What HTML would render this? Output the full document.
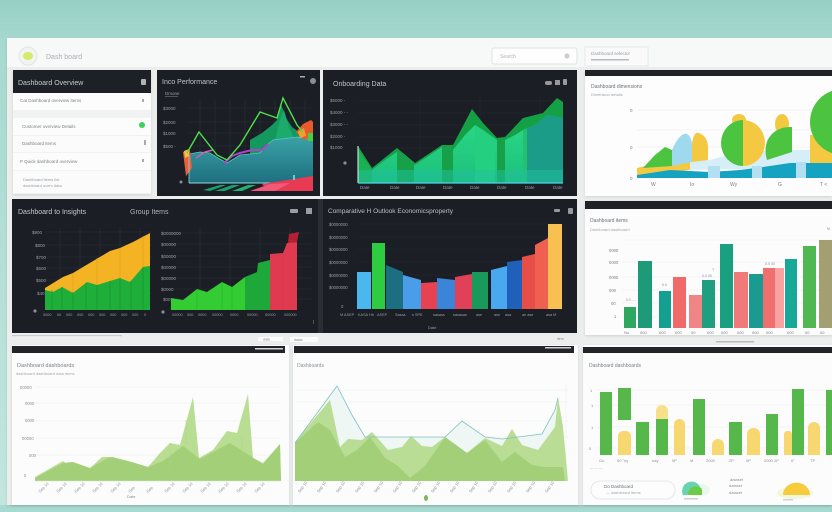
<!DOCTYPE html>
<html><head><meta charset="utf-8"><style>
html,body{margin:0;padding:0;width:832px;height:512px;overflow:hidden;background:#b5dfd8}
svg{display:block}
text{font-family:"Liberation Sans",sans-serif}
</style></head><body>
<svg width="832" height="512" viewBox="0 0 832 512" xmlns="http://www.w3.org/2000/svg">
<defs>
<linearGradient id="bg" x1="0" y1="0" x2="0" y2="1">
<stop offset="0" stop-color="#96cfc4"/><stop offset="0.08" stop-color="#a6d9cf"/><stop offset="1" stop-color="#c3e6df"/></linearGradient>
<linearGradient id="teal" x1="0" y1="0" x2="0" y2="1"><stop offset="0" stop-color="#3aa2a6"/><stop offset="1" stop-color="#1e6f80"/></linearGradient>
<linearGradient id="gfront" x1="0" y1="0" x2="0" y2="1"><stop offset="0" stop-color="#2fe08a"/><stop offset="1" stop-color="#1cc07a"/></linearGradient>
<clipPath id="cp3"><polygon points="358,150 372,170 385,160 397,152 405,155 415,165 430,155 442,147 453,150 465,135 475,125 483,130 497,140 505,140 515,135 523,130 535,125 547,115 563,118 563,183 358,183"/></clipPath>
<clipPath id="cp4"><rect x="585" y="70" width="247" height="126"/></clipPath>
<filter id="sh" x="-5%" y="-5%" width="110%" height="110%"><feDropShadow dx="0" dy="1" stdDeviation="1.2" flood-color="#000" flood-opacity="0.12"/></filter>
</defs>
<rect width="832" height="512" fill="url(#bg)"/>
<rect x="0" y="505" width="832" height="7" fill="#a7dad1"/>
<!-- main container -->
<rect x="7" y="38" width="825" height="467" fill="#eceeee" filter="url(#sh)"/>
<rect x="7" y="38" width="825" height="29" fill="#f7f8f8"/>
<circle cx="28" cy="56" r="9" fill="#f3f3f3" stroke="#e2e4e4"/>
<ellipse cx="28" cy="56" rx="5" ry="4" fill="#d6eb6c"/>
<text x="46" y="59" font-size="7" fill="#a8b0b4">Dash board</text>
<rect x="492" y="48" width="85" height="16" rx="2" fill="#fdfdfd" stroke="#e1e4e4"/>
<text x="500" y="58" font-size="5" fill="#b0b4b8">Search</text>
<circle cx="567" cy="56" r="2.5" fill="#c8cccc"/>
<rect x="585" y="47" width="63" height="19" fill="#fafafa" stroke="#e6e8e8"/>
<text x="591" y="55" font-size="4.5" fill="#9aa0a4">Dashboard selector</text>
<rect x="591" y="59" width="38" height="1.5" fill="#b8bcbf"/>

<!-- ROW 1 left list -->
<rect x="13" y="70" width="138" height="124" fill="#f1f2f2" filter="url(#sh)"/>
<rect x="13" y="70" width="138" height="23" fill="#1d2027"/>
<text x="18" y="85" font-size="7" fill="#c8cacd">Dashboard Overview</text>
<rect x="141" y="79" width="5" height="6" rx="1" fill="#b0b2b5"/>
<rect x="13" y="93" width="138" height="17" fill="#fcfcfc"/>
<text x="20" y="102" font-size="4.5" fill="#7c8286">Cat  Dashboard overview items</text>
<rect x="142" y="99" width="2" height="3" fill="#aaa"/>
<rect x="13" y="118" width="138" height="17" fill="#fcfcfc"/>
<text x="22" y="128" font-size="4.5" fill="#7c8286">Customer overview  Details</text>
<circle cx="142" cy="125" r="3" fill="#3dd15a"/>
<rect x="13" y="136" width="138" height="16" fill="#fbfbfb"/>
<text x="22" y="145" font-size="4.5" fill="#7c8286">Dashboard items</text>
<rect x="144" y="140" width="2" height="5" fill="#aaa"/>
<rect x="13" y="153" width="138" height="17" fill="#fcfcfc"/>
<text x="20" y="163" font-size="4.5" fill="#7c8286">P  Quick dashboard overview</text>
<rect x="142" y="159" width="2" height="3" fill="#aaa"/>
<rect x="13" y="171" width="138" height="22" fill="#fbfbfb"/>
<text x="23" y="181" font-size="4" fill="#9aa0a4">Dashboard items list</text>
<text x="23" y="187" font-size="4" fill="#9aa0a4">dashboard ovem  data</text>

<!-- ROW 1 panel 2 -->
<rect x="157" y="70" width="163" height="126" fill="#1b1e25"/>
<text x="162" y="84" font-size="7" fill="#c0c3c6">Inco Performance</text>
<rect x="300" y="76" width="5" height="1.5" fill="#aaa"/>
<circle cx="313" cy="81" r="3" fill="#8a8d92"/>
<g stroke="#2a2f37" stroke-width="0.6">
<line x1="189" y1="108" x2="313" y2="108"/><line x1="189" y1="122" x2="313" y2="122"/><line x1="189" y1="133" x2="313" y2="133"/><line x1="189" y1="146" x2="313" y2="146"/><line x1="189" y1="160" x2="313" y2="160"/><line x1="189" y1="172" x2="313" y2="172"/>
<line x1="200" y1="100" x2="200" y2="183"/><line x1="215" y1="100" x2="215" y2="183"/><line x1="230" y1="100" x2="230" y2="183"/><line x1="245" y1="100" x2="245" y2="183"/><line x1="260" y1="100" x2="260" y2="183"/><line x1="275" y1="100" x2="275" y2="183"/><line x1="290" y1="100" x2="290" y2="183"/><line x1="305" y1="100" x2="305" y2="183"/>
</g>
<g font-size="4.5" fill="#9a9ea3"><text x="165" y="95">Dmone</text><text x="163" y="110">$3000</text><text x="163" y="124">$2000</text><text x="163" y="135">$1000</text><text x="163" y="148">$500 -</text></g>
<rect x="165" y="96" width="13" height="0.6" fill="#777"/>
<circle cx="181" cy="182" r="1.5" fill="#8a8d92"/>
<polygon points="250,140 262,133 272,125 277,120 281,104 286,118 292,127 300,133 313,138 313,160 250,160" fill="#13985e"/>
<polygon points="265,150 275,140 280,120 284,110 290,130 295,140 290,150" fill="#20b070" opacity="0.8"/>
<polygon points="189,154 200,152 210,153 218,158 227,163 240,155 260,153 267,145 273,140 297,137 313,140 313,183 189,183" fill="url(#teal)"/>
<polyline points="189,154 200,152 210,153 218,158 227,163 240,155 260,153 267,145 273,140 297,137 313,140" fill="none" stroke="#5bc3c3" stroke-width="0.8"/>
<polygon points="183,152 190,150 192,168 186,176" fill="#e8603a"/>
<polygon points="184,151 189,149 189,156 185,158" fill="#f0c040"/>
<polyline points="224,163 232,156 240,153 252,150 262,150 268,144" fill="none" stroke="#b23fd0" stroke-width="2"/>
<polyline points="196,158 205,152 213,150" fill="none" stroke="#d060b0" stroke-width="1.5"/>
<polygon points="296,132 303,124 311,120 313,122 313,136 304,140" fill="#e85a2a"/>
<polygon points="298,132 304,128 306,136 300,138" fill="#f0a030"/>
<rect x="308" y="133" width="5" height="8" fill="#44d040"/>
<polyline points="187,153 199,132 217,155 227,160 240,145 260,112 277,118 283,98 297,125 303,132" fill="none" stroke="#4ee04a" stroke-width="1.4"/>
<line x1="189" y1="183" x2="313" y2="183" stroke="#8fd6dc" stroke-width="1"/>
<line x1="189" y1="155" x2="189" y2="183" stroke="#8fd6dc" stroke-width="0.8"/>
<polygon points="262,184 313,176 313,191 268,191" fill="#e83a52"/>
<polygon points="250,191 270,184 290,183 275,191" fill="#f05a78"/>
<polygon points="203,190 220,185 226,185 210,191" fill="#19a070"/>
<polygon points="215,191 232,185 240,185 225,191" fill="#1aa070"/>
<polygon points="232,191 248,185 256,185 242,191" fill="#22b070"/>
<rect x="293" y="175" width="2" height="5" fill="#5cd0d8"/>

<!-- ROW 1 panel 3 -->
<rect x="323" y="70" width="254" height="126" fill="#1b1e25"/>
<text x="333" y="86" font-size="7" fill="#c0c3c6">Onboarding Data</text>
<rect x="545" y="81" width="7" height="4" rx="2" fill="#999"/><rect x="555" y="80" width="5" height="5" fill="#999"/><rect x="563" y="79" width="4" height="6" rx="1" fill="#999"/>
<g stroke="#262a31" stroke-width="0.6">
<line x1="358" y1="101" x2="563" y2="101"/><line x1="358" y1="113" x2="563" y2="113"/><line x1="358" y1="125" x2="563" y2="125"/><line x1="358" y1="137" x2="563" y2="137"/><line x1="358" y1="148" x2="563" y2="148"/>
<line x1="420" y1="95" x2="420" y2="183"/><line x1="480" y1="95" x2="480" y2="183"/><line x1="540" y1="95" x2="540" y2="183"/>
</g>
<g font-size="4.5" fill="#9a9ea3"><text x="330" y="102">$5000  -</text><text x="330" y="114">$4000  -  -</text><text x="330" y="126">$3000  -  -</text><text x="330" y="138">$2000   -</text><text x="330" y="149">$1000</text></g>
<circle cx="345" cy="163" r="1.6" fill="#8a8d92"/>
<polygon points="358,146 372,168 397,148 415,163 442,145 453,145 472,109 483,123 497,138 505,137 523,118 543,113 557,98 563,102 563,183 358,183" fill="#14a045"/>
<g clip-path="url(#cp3)">
<rect x="358" y="100" width="205" height="83" fill="url(#gfront)"/>
<rect x="358" y="100" width="14" height="83" fill="#1cb055"/>
<rect x="397" y="100" width="17" height="83" fill="#17a048"/>
<rect x="442" y="100" width="11" height="83" fill="#17a048"/>
<rect x="475" y="100" width="20" height="83" fill="#24d080"/>
<rect x="497" y="100" width="8" height="83" fill="#17a048"/>
<rect x="523" y="100" width="4" height="83" fill="#22c070"/>
<rect x="527" y="100" width="36" height="83" fill="#1a9c88"/>
<rect x="358" y="170" width="205" height="13" fill="#1fc0a0" opacity="0.5"/>
</g>
<line x1="358" y1="146" x2="358" y2="183" stroke="#d8f5ee" stroke-width="1"/>
<line x1="358" y1="183" x2="563" y2="183" stroke="#4fd2e2" stroke-width="1.2"/>
<g font-size="4.5" fill="#9a9ea3"><text x="360" y="189">Date</text><text x="390" y="189">Date</text><text x="416" y="189">Date</text><text x="443" y="189">Date</text><text x="470" y="189">Date</text><text x="497" y="189">Date</text><text x="525" y="189">Date</text><text x="553" y="189">Date</text></g>

<!-- ROW 1 panel 4 -->
<rect x="585" y="70" width="247" height="126" fill="#fdfdfd" filter="url(#sh)"/>
<rect x="585" y="70" width="247" height="6" fill="#202226"/>
<text x="591" y="88" font-size="5" fill="#6a7074">Dashboard dimensions</text>
<text x="591" y="96" font-size="4" fill="#a0a6aa">Dimension details</text>
<g stroke="#eef0f1" stroke-width="0.7"><line x1="637" y1="110" x2="832" y2="110"/><line x1="637" y1="130" x2="832" y2="130"/><line x1="637" y1="147" x2="832" y2="147"/><line x1="637" y1="163" x2="832" y2="163"/></g>
<g font-size="4.5" fill="#7a7f84"><text x="630" y="112">0</text><text x="630" y="149">0</text><text x="630" y="180">0</text></g>
<g clip-path="url(#cp4)">
<polygon points="672,160 710,160 740,152 790,150 832,150 832,168 672,170" fill="#d6eef7"/>
<polygon points="637,168 670,160 690,160 690,170 637,175" fill="#f5c842"/>
<polygon points="643,168 655,155 665,147 672,150 672,166" fill="#4cc440"/>
<path d="M672,150 Q680,132 687,134 Q692,137 692,146 L692,162 L672,166 Z" fill="#9fd9ee"/>
<path d="M692,143 Q694,131 699,133 Q707,136 708,146 L708,160 L692,162 Z" fill="#f5c842"/>
<ellipse cx="739" cy="120" rx="7" ry="6" fill="#f5c842"/>
<path d="M743,120 A22,23 0 0,0 743,166 Z" fill="#4cc440"/>
<path d="M743,120 A22,23 0 0,1 743,166 Z" fill="#f5c842"/>
<ellipse cx="782" cy="124" rx="7" ry="10" fill="#f5c842"/>
<path d="M767,160 C761,140 774,126 792,127 L792,152 Z" fill="#4cc440"/>
<rect x="810" y="135" width="22" height="28" fill="#f5c842"/>
<circle cx="843" cy="122" r="33" fill="#4cc440"/>
<polygon points="637,175 670,170 710,172 740,170 763,167 790,163 832,163 832,178 637,178" fill="#16a3c2"/>
<rect x="708" y="166" width="12" height="12" fill="#b2e0f0"/>
<rect x="752" y="166" width="10" height="12" fill="#b2e0f0"/>
<rect x="796" y="162" width="10" height="16" fill="#b2e0f0"/>
</g>
<g font-size="5" fill="#7a7f84"><text x="651" y="186">W</text><text x="690" y="186">Io</text><text x="730" y="186">Wy</text><text x="778" y="186">G</text><text x="820" y="186">T &lt;</text></g>

<!-- ROW 2 left dark -->
<rect x="12" y="199" width="306" height="134" fill="#1b1e25"/>
<rect x="318" y="199" width="5" height="134" fill="#2a2d33"/>
<text x="18" y="214" font-size="7" fill="#c6c8cb">Dashboard to Insights</text>
<text x="130" y="214" font-size="7" fill="#b0b3b7">Group Items</text>
<rect x="290" y="209" width="8" height="4" rx="1" fill="#9a9da1"/><rect x="306" y="208" width="6" height="6" fill="#9a9da1"/>
<g stroke="#2a2f37" stroke-width="0.6">
<line x1="45" y1="232" x2="152" y2="232"/><line x1="45" y1="245" x2="152" y2="245"/><line x1="45" y1="257" x2="152" y2="257"/><line x1="45" y1="268" x2="152" y2="268"/><line x1="45" y1="280" x2="152" y2="280"/><line x1="45" y1="293" x2="152" y2="293"/>
<line x1="170" y1="233" x2="312" y2="233"/><line x1="170" y1="244" x2="312" y2="244"/><line x1="170" y1="256" x2="312" y2="256"/><line x1="170" y1="267" x2="312" y2="267"/><line x1="170" y1="278" x2="312" y2="278"/><line x1="170" y1="289" x2="312" y2="289"/><line x1="170" y1="299" x2="312" y2="299"/>
<line x1="60" y1="228" x2="60" y2="310"/><line x1="80" y1="228" x2="80" y2="310"/><line x1="100" y1="228" x2="100" y2="310"/><line x1="120" y1="228" x2="120" y2="310"/><line x1="140" y1="228" x2="140" y2="310"/>
<line x1="200" y1="228" x2="200" y2="310"/><line x1="230" y1="228" x2="230" y2="310"/><line x1="260" y1="228" x2="260" y2="310"/><line x1="290" y1="228" x2="290" y2="310"/>
</g>
<g font-size="4.5" fill="#9a9ea3"><text x="32" y="234">$900</text><text x="35" y="247">$800</text><text x="36" y="259">$700</text><text x="36" y="270">$600</text><text x="36" y="282">$500</text><text x="37" y="295">$40</text>
<text x="161" y="235">$0000000</text><text x="161" y="246">$00000</text><text x="161" y="258">$00000</text><text x="161" y="269">$00000</text><text x="161" y="280">$00000</text><text x="161" y="291">$0000</text><text x="163" y="301">$00</text></g>
<circle cx="35" cy="311" r="1.6" fill="#8a8d92"/><circle cx="163" cy="312" r="1.6" fill="#8a8d92"/>
<polygon points="45,288 63,277 73,273 83,267 110,251 120,248 133,242 150,233 150,310 45,310" fill="#f4b323"/>
<polygon points="45,290 53,292 62,287 73,293 87,282 97,285 110,281 120,278 130,282 143,267 150,266 150,310 45,310" fill="#1fae3a"/>
<g stroke="#17902e" stroke-width="0.6"><line x1="52" y1="290" x2="52" y2="310"/><line x1="62" y1="287" x2="62" y2="310"/><line x1="73" y1="292" x2="73" y2="310"/><line x1="86" y1="283" x2="86" y2="310"/><line x1="97" y1="285" x2="97" y2="310"/><line x1="110" y1="281" x2="110" y2="310"/><line x1="120" y1="278" x2="120" y2="310"/><line x1="131" y1="281" x2="131" y2="310"/><line x1="143" y1="267" x2="143" y2="310"/></g>
<g stroke="#d99a18" stroke-width="0.5"><line x1="73" y1="273" x2="73" y2="292"/><line x1="97" y1="258" x2="97" y2="285"/><line x1="120" y1="248" x2="120" y2="278"/><line x1="143" y1="236" x2="143" y2="267"/></g>
<g font-size="3.8" fill="#9a9ea3"><text x="43" y="316">0000</text><text x="57" y="316">00</text><text x="66" y="316">000</text><text x="77" y="316">000</text><text x="88" y="316">000</text><text x="99" y="316">000</text><text x="110" y="316">000</text><text x="121" y="316">000</text><text x="132" y="316">000</text><text x="144" y="316">0</text></g>
<polygon points="171,298 183,300 197,289 207,292 222,282 232,287 245,277 245,310 171,310" fill="#33cc33"/>
<polygon points="245,277 257,272 258,263 270,260 270,310 245,310" fill="#1ea83a"/>
<polygon points="270,254 283,253 287,243 297,242 297,310 270,310" fill="#e03a50"/>
<polygon points="288,243 289,234 299,232 297,242" fill="#b52035"/>
<g stroke="#26b02a" stroke-width="0.5"><line x1="197" y1="289" x2="197" y2="310"/><line x1="222" y1="282" x2="222" y2="310"/><line x1="232" y1="287" x2="232" y2="310"/><line x1="283" y1="253" x2="283" y2="310" stroke="#c83045"/></g>
<g font-size="3.8" fill="#9a9ea3"><text x="172" y="316">00000</text><text x="187" y="316">000</text><text x="198" y="316">0000</text><text x="212" y="316">00000</text><text x="230" y="316">0000</text><text x="247" y="316">00000</text><text x="265" y="316">00000</text><text x="284" y="316">000000</text></g>
<rect x="313" y="320" width="1" height="4" fill="#555"/>

<!-- ROW 2 middle dark -->
<rect x="323" y="199" width="254" height="134" fill="#1b1e25"/>
<text x="328" y="213" font-size="6.5" fill="#bcc0c3">Comparative H  Outlook  Economicsproperty</text>
<rect x="554" y="209" width="6" height="3" rx="1" fill="#999"/><rect x="568" y="208" width="5" height="6" rx="1" fill="#999"/>
<g stroke="#252930" stroke-width="0.6"><line x1="357" y1="224" x2="563" y2="224"/><line x1="357" y1="237" x2="563" y2="237"/><line x1="357" y1="249" x2="563" y2="249"/><line x1="357" y1="262" x2="563" y2="262"/><line x1="357" y1="275" x2="563" y2="275"/><line x1="357" y1="287" x2="563" y2="287"/></g>
<g font-size="4.2" fill="#9a9ea3"><text x="329" y="226">$0000000</text><text x="329" y="239">$0000000</text><text x="329" y="251">$0000000</text><text x="329" y="264">$0000000</text><text x="329" y="277">$0000000</text><text x="329" y="289">$0000000</text><text x="341" y="308">0</text></g>
<rect x="357" y="272" width="14" height="37" fill="#4ab8ee"/>
<rect x="372" y="243" width="13" height="66" fill="#2ecc40"/>
<polygon points="386,265 403,272 403,309 386,309" fill="#1b6f80"/>
<polygon points="403,275 421,280 421,309 403,309" fill="#4a9de8"/>
<polygon points="421,283 437,282 437,309 421,309" fill="#e8414f"/>
<polygon points="437,278 455,280 455,309 437,309" fill="#3a85d8"/>
<polygon points="455,277 472,274 472,309 455,309" fill="#e04058"/>
<rect x="472" y="272" width="16" height="37" fill="#1a9a5a"/>
<polygon points="491,270 507,266 507,309 491,309" fill="#4aa8f0"/>
<polygon points="507,262 522,260 522,309 507,309" fill="#2060b8"/>
<polygon points="522,257 535,254 535,309 522,309" fill="#e84e48"/>
<polygon points="535,245 548,238 548,309 535,309" fill="#f06050"/>
<rect x="548" y="224" width="14" height="85" fill="#f8c050"/>
<g font-size="3.8" fill="#9a9ea3"><text x="340" y="316">M  ASEP</text><text x="358" y="316">KASA  Hh</text><text x="377" y="316">ASEP</text><text x="395" y="316">Sasas</text><text x="412" y="316">s  SPE</text><text x="433" y="316">sasass</text><text x="453" y="316">sasasas</text><text x="476" y="316">ase</text><text x="494" y="316">ase</text><text x="505" y="316">asa</text><text x="522" y="316">ae  ase</text><text x="546" y="316">asa  M</text></g>
<text x="428" y="329" font-size="4" fill="#9a9ea3">Date</text>

<!-- ROW 2 right -->
<rect x="585" y="201" width="247" height="134" fill="#fcfcfc" filter="url(#sh)"/>
<rect x="585" y="201" width="247" height="8" fill="#202226"/>
<text x="590" y="222" font-size="5" fill="#6a7074">Dashboard items</text>
<text x="590" y="231" font-size="4" fill="#a0a6aa">Dashboard dashboard</text>
<g stroke="#f0f1f2" stroke-width="0.7"><line x1="622" y1="240" x2="832" y2="240"/><line x1="622" y1="262" x2="832" y2="262"/><line x1="622" y1="277" x2="832" y2="277"/><line x1="622" y1="290" x2="832" y2="290"/><line x1="622" y1="303" x2="832" y2="303"/><line x1="622" y1="317" x2="832" y2="317"/></g>
<g font-size="4.2" fill="#7a7f84"><text x="609" y="252">0000</text><text x="609" y="264">0000</text><text x="609" y="279">0000</text><text x="609" y="292">000</text><text x="611" y="305">00</text><text x="614" y="318">1</text></g>
<rect x="624" y="307" width="12" height="21" fill="#2ea860"/>
<rect x="638" y="261" width="14" height="67" fill="#1e9a78"/>
<rect x="659" y="291" width="12" height="37" fill="#14a090"/>
<rect x="673" y="277" width="13" height="51" fill="#f06a6a"/>
<rect x="689" y="295" width="13" height="33" fill="#f08585"/>
<rect x="702" y="280" width="13" height="48" fill="#1f9f80"/>
<rect x="720" y="244" width="13" height="84" fill="#18a080"/>
<rect x="734" y="272" width="14" height="56" fill="#f07a7a"/>
<rect x="749" y="274" width="14" height="54" fill="#1a9a90"/>
<rect x="763" y="268" width="12" height="60" fill="#f07070"/>
<rect x="775" y="268" width="9" height="60" fill="#f8a2a2"/>
<rect x="785" y="259" width="12" height="69" fill="#18a898"/>
<rect x="803" y="246" width="13" height="82" fill="#50b850"/>
<rect x="819" y="240" width="13" height="88" fill="#a2a072"/>
<g font-size="3.6" fill="#8a9094"><text x="626" y="301">0.0 ....</text><text x="662" y="286">0.0</text><text x="702" y="277">0.0 00</text><text x="712" y="271">T</text><text x="765" y="265">0.0  00</text><text x="827" y="230">M</text></g>
<g font-size="4" fill="#7a7f84"><text x="624" y="334">No</text><text x="640" y="334">000</text><text x="659" y="334">000</text><text x="675" y="334">000</text><text x="691" y="334">00</text><text x="707" y="334">000</text><text x="721" y="334">000</text><text x="737" y="334">000</text><text x="752" y="334">000</text><text x="766" y="334">000</text><text x="787" y="334">000</text><text x="805" y="334">00</text><text x="820" y="334">00</text></g>

<!-- strip between rows -->
<rect x="12" y="335" width="110" height="1.2" fill="#c8cbcc"/>
<rect x="258" y="337" width="25" height="4" fill="#fbfbfb"/><text x="263" y="340.5" font-size="3.5" fill="#888">data</text>
<rect x="290" y="337" width="28" height="5" fill="#fbfbfb"/><text x="294" y="341" font-size="3.5" fill="#888">datas</text>
<text x="557" y="340" font-size="3.5" fill="#888">item</text>
<rect x="716" y="341" width="38" height="1.5" fill="#b8bcbf"/>

<!-- ROW 3 panel 1 -->
<rect x="12" y="345" width="277" height="160" fill="#fcfcfc" filter="url(#sh)"/>
<rect x="12" y="346" width="273" height="7" fill="#222428"/>
<rect x="255" y="348" width="28" height="1.5" fill="#cfd2d4"/>
<text x="17" y="367" font-size="5.5" fill="#7a8084">Dashboard  dashboards</text>
<text x="16" y="375" font-size="4" fill="#a2a8ac">dashboard dashboard data items</text>
<g stroke="#eff1f1" stroke-width="0.7"><line x1="35" y1="387" x2="281" y2="387"/><line x1="35" y1="403" x2="281" y2="403"/><line x1="35" y1="421" x2="281" y2="421"/><line x1="35" y1="438" x2="281" y2="438"/><line x1="35" y1="455" x2="281" y2="455"/></g>
<g font-size="4.2" fill="#8a9094"><text x="20" y="389">00000</text><text x="25" y="405">0000</text><text x="25" y="422">0000</text><text x="22" y="440">00000</text><text x="29" y="457">000</text><text x="24" y="477">0</text></g>
<polygon points="35,477 63,461 67,464 90,468 102,457 113,457 128,461 148,467 160,453 170,443 180,445 193,397 199,458 213,450 227,431 237,433 248,394 253,458 263,463 280,444 281,481 35,481" fill="#b9dd92"/>
<polygon points="35,478 63,463 73,462 90,468 110,457 128,461 148,467 163,461 183,446 200,459 217,450 230,443 252,457 263,464 280,444 281,481 35,481" fill="#a2cf78"/>
<g stroke="#aed688" stroke-width="0.5"><line x1="170" y1="443" x2="170" y2="470"/><line x1="186" y1="420" x2="186" y2="446"/><line x1="242" y1="436" x2="242" y2="455"/></g>
<line x1="35" y1="481" x2="281" y2="481" stroke="#d8e8cc" stroke-width="0.6"/>
<g font-size="4" fill="#8a9094">
<text transform="translate(40,493) rotate(-45)">Sep 10</text><text transform="translate(58,493) rotate(-45)">Sep 10</text><text transform="translate(76,493) rotate(-45)">Sep 10</text><text transform="translate(94,493) rotate(-45)">Sep 10</text><text transform="translate(112,493) rotate(-45)">Sep 10</text><text transform="translate(130,493) rotate(-45)">Sep</text><text transform="translate(148,493) rotate(-45)">Sep</text><text transform="translate(166,493) rotate(-45)">Sep 10</text><text transform="translate(184,493) rotate(-45)">Sep 10</text><text transform="translate(202,493) rotate(-45)">Sep 10</text><text transform="translate(220,493) rotate(-45)">Sep 10</text><text transform="translate(238,493) rotate(-45)">Sep 10</text><text transform="translate(256,493) rotate(-45)">Sep 10</text></g>
<text x="127" y="498" font-size="4" fill="#8a9094">Date</text>

<!-- ROW 3 panel 2 -->
<rect x="293" y="345" width="285" height="160" fill="#fcfcfc" filter="url(#sh)"/>
<rect x="294" y="346" width="280" height="7" fill="#222428"/>
<rect x="545" y="347" width="26" height="1.5" fill="#cfd2d4"/>
<text x="297" y="367" font-size="5" fill="#8a9094">Dashboards</text>
<g stroke="#eff1f1" stroke-width="0.7"><line x1="295" y1="390" x2="568" y2="390"/><line x1="295" y1="402" x2="568" y2="402"/><line x1="295" y1="421" x2="568" y2="421"/><line x1="295" y1="437" x2="568" y2="437"/><line x1="566" y1="385" x2="566" y2="481"/></g>
<polygon points="295,443 337,386 352,415 365,437 415,437 445,437 462,421 485,437 502,439 542,434 555,410 558,398 568,481 295,481" fill="#eef7f3"/>
<polygon points="295,442 305,430 330,400 340,447 348,439 362,440 372,432 388,450 402,447 411,436 422,446 432,447 445,437 467,453 485,438 502,446 512,429 522,445 538,450 555,427 558,397 563,427 568,481 295,481" fill="#b9dd94"/>
<polygon points="295,443 318,422 330,430 345,457 357,450 370,437 385,458 398,466 410,478 425,466 445,437 467,453 485,440 502,462 515,452 532,465 545,467 563,467 565,481 295,481" fill="#a2cf78"/>
<polyline points="295,443 337,386 352,415 365,437 415,437 445,437 462,421 485,437 502,439 542,434 555,410 558,398" fill="none" stroke="#7cc2c0" stroke-width="0.8"/>
<g font-size="4" fill="#8a9094">
<text transform="translate(300,493) rotate(-55)">Sep 10</text><text transform="translate(319,493) rotate(-55)">Sep 10</text><text transform="translate(338,493) rotate(-55)">Sep 10</text><text transform="translate(357,493) rotate(-55)">Sep 10</text><text transform="translate(376,493) rotate(-55)">Sep 10</text><text transform="translate(395,493) rotate(-55)">Sep 10</text><text transform="translate(414,493) rotate(-55)">Sep 10</text><text transform="translate(433,493) rotate(-55)">Sep 10</text><text transform="translate(452,493) rotate(-55)">Sep 10</text><text transform="translate(471,493) rotate(-55)">Sep 10</text><text transform="translate(490,493) rotate(-55)">Sep 10</text><text transform="translate(509,493) rotate(-55)">Sep 10</text><text transform="translate(528,493) rotate(-55)">Sep 10</text><text transform="translate(547,493) rotate(-55)">Sep 10</text></g>
<ellipse cx="426" cy="498" rx="2" ry="3" fill="#7ab860"/>

<!-- ROW 3 panel 3 -->
<rect x="583" y="345" width="249" height="160" fill="#fcfcfc" filter="url(#sh)"/>
<rect x="583" y="347" width="249" height="6" fill="#222428"/>
<rect x="716" y="341" width="38" height="1.5" fill="#b8bcbf"/>
<text x="589" y="367" font-size="5" fill="#7a8084">Dashboard dashboards</text>
<g stroke="#f0f1f2" stroke-width="0.7"><line x1="596" y1="390" x2="832" y2="390"/><line x1="596" y1="405" x2="832" y2="405"/><line x1="596" y1="427" x2="832" y2="427"/><line x1="596" y1="448" x2="832" y2="448"/></g>
<g font-size="4" fill="#8a9094"><text x="590" y="392">1</text><text x="591" y="407">1</text><text x="591" y="429">1</text><text x="589" y="450">0</text></g>
<rect x="600" y="392" width="12" height="63" fill="#56b84a"/>
<rect x="618" y="388" width="13" height="32" fill="#56b84a"/>
<rect x="618" y="431" width="13" height="24" rx="5" fill="#f7d870"/><rect x="618" y="440" width="13" height="15" fill="#f7d870"/>
<rect x="636" y="422" width="13" height="33" fill="#56b84a"/>
<rect x="656" y="405" width="12" height="50" rx="6" fill="#f6e08a"/>
<rect x="656" y="419" width="12" height="36" fill="#56b84a"/>
<rect x="674" y="419" width="11" height="36" rx="5.5" fill="#f7d870"/><rect x="674" y="428" width="11" height="27" fill="#f7d870"/>
<rect x="693" y="399" width="12" height="56" fill="#56b84a"/>
<rect x="712" y="439" width="12" height="16" rx="6" fill="#f7d870"/><rect x="712" y="446" width="12" height="9" fill="#f7d870"/>
<rect x="729" y="422" width="13" height="33" fill="#56b84a"/>
<rect x="747" y="428" width="13" height="27" rx="6" fill="#f7d870"/><rect x="747" y="436" width="13" height="19" fill="#f7d870"/>
<rect x="766" y="414" width="12" height="41" fill="#56b84a"/>
<rect x="784" y="431" width="8" height="24" rx="3" fill="#f7d870"/><rect x="784" y="436" width="8" height="19" fill="#f7d870"/>
<rect x="792" y="389" width="12" height="66" fill="#56b84a"/>
<rect x="808" y="422" width="12" height="33" rx="6" fill="#f7d870"/><rect x="808" y="430" width="12" height="25" fill="#f7d870"/>
<rect x="826" y="390" width="6" height="65" fill="#56b84a"/>
<g font-size="4" fill="#8a9094"><text x="599" y="462">Go</text><text x="617" y="462">00  "ny</text><text x="652" y="462">nay</text><text x="672" y="462">0P</text><text x="690" y="462">M</text><text x="706" y="462">2000</text><text x="729" y="462">2P</text><text x="746" y="462">0P</text><text x="764" y="462">2000  2P</text><text x="791" y="462">0"</text><text x="810" y="462">TP</text></g>
<text x="590" y="469" font-size="3.6" fill="#a0a6aa">— — —</text>
<rect x="591" y="481" width="84" height="18" rx="9" fill="#fdfdfd" stroke="#e6e8e8"/>
<text x="604" y="488" font-size="4.5" fill="#6a7074">Do  Dashboard</text>
<text x="606" y="494" font-size="4" fill="#a0a6aa">— dashboard items</text>
<text x="730" y="481" font-size="4" fill="#8a9094">dataset</text>
<text x="729" y="487" font-size="4" fill="#8a9094">dataset</text>
<text x="729" y="494" font-size="4" fill="#8a9094">dataset</text>
<ellipse cx="700" cy="490" rx="10" ry="6" fill="#eaf6ee"/>
<path d="M683,495 A9,9 0 0,1 700,487 L700,495 Z" fill="#66d4b0"/>
<path d="M688,495 A8,8 0 0,1 702,489 L702,495 Z" fill="#6ccb48"/>
<rect x="684" y="498" width="14" height="1.5" fill="#c8d0d0"/>
<ellipse cx="795" cy="493" rx="18" ry="6" fill="#f1f7d8"/>
<path d="M783,495 A12,11 0 0,1 810,495 Z" fill="#f6cb3c"/>
<rect x="783" y="499" width="10" height="1.5" fill="#cfd3d3"/>
</svg>
</body></html>
